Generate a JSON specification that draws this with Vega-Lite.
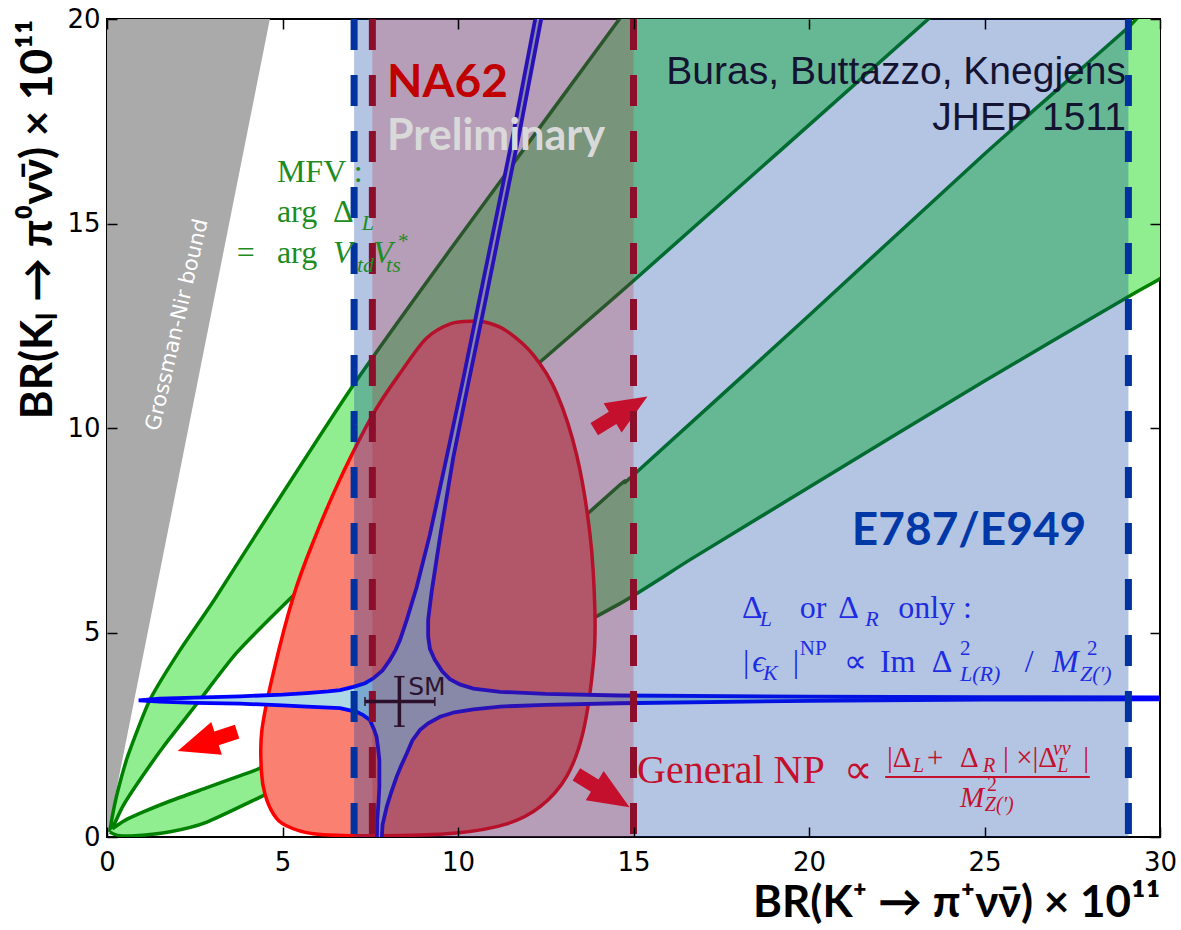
{
"$schema": "https://vega.github.io/schema/vega-lite/v6.json",
"width": 1053, "height": 818,
"autosize": {"type": "none"},
"padding": {"left": 107, "top": 19, "right": 21, "bottom": 93},
"background": "white",
"config": {
  "view": {"stroke": "black", "strokeWidth": 2},
  "axis": {"grid": false, "domain": false, "tickColor": "black", "tickWidth": 1.5, "tickSize": -10, "labelFont": "DejaVu Sans", "labelFontSize": 26, "labelColor": "black", "titleFont": "Lato", "titleFontWeight": "bold", "titleFontSize": 44, "titleColor": "black", "labelPadding": 22}
},
"datasets": {
  "shapes": [
    {"s":"gn","i":0,"x":0,"y":0},{"s":"gn","i":1,"x":4.64,"y":20},{"s":"gn","i":2,"x":4.95,"y":21.5},{"s":"gn","i":3,"x":-1,"y":21.5},{"s":"gn","i":4,"x":-1,"y":0},
    {"s":"b1","i":0,"x":0.08,"y":0.12},{"s":"b1","i":1,"x":0.15,"y":0.5},{"s":"b1","i":2,"x":0.3,"y":1.1},{"s":"b1","i":3,"x":0.6,"y":2.0},{"s":"b1","i":4,"x":1.22,"y":3.35},{"s":"b1","i":5,"x":2.08,"y":4.57},{"s":"b1","i":6,"x":3.05,"y":5.79},{"s":"b1","i":7,"x":4.55,"y":7.8},{"s":"b1","i":8,"x":7.02,"y":11.05},{"s":"b1","i":9,"x":9.77,"y":14.35},{"s":"b1","i":10,"x":14.6,"y":20},{"s":"b1","i":11,"x":17,"y":22.8},
    {"s":"b1","i":12,"x":26,"y":22},{"s":"b1","i":13,"x":23.4,"y":20},{"s":"b1","i":14,"x":15,"y":13.6},{"s":"b1","i":15,"x":11.2,"y":10.75},{"s":"b1","i":16,"x":7.02,"y":7.3},{"s":"b1","i":17,"x":5.17,"y":5.79},{"s":"b1","i":18,"x":3.69,"y":4.5},{"s":"b1","i":19,"x":2.6,"y":3.3},{"s":"b1","i":20,"x":1.6,"y":2.2},{"s":"b1","i":21,"x":0.9,"y":1.35},{"s":"b1","i":22,"x":0.45,"y":0.75},{"s":"b1","i":23,"x":0.15,"y":0.2},
    {"s":"b2","i":0,"x":0.15,"y":0.2},{"s":"b2","i":1,"x":0.5,"y":0.4},{"s":"b2","i":2,"x":1.0,"y":0.6},{"s":"b2","i":3,"x":1.8,"y":0.88},{"s":"b2","i":4,"x":2.83,"y":1.2},{"s":"b2","i":5,"x":3.8,"y":1.5},{"s":"b2","i":6,"x":4.35,"y":1.68},{"s":"b2","i":7,"x":5.5,"y":2.25},{"s":"b2","i":8,"x":7.02,"y":3.06},{"s":"b2","i":9,"x":9.24,"y":4.6},{"s":"b2","i":10,"x":11,"y":5.85},{"s":"b2","i":11,"x":14.6,"y":8.6},{"s":"b2","i":12,"x":15,"y":8.85},{"s":"b2","i":13,"x":20,"y":12.75},{"s":"b2","i":14,"x":25,"y":16.7},{"s":"b2","i":15,"x":29.1,"y":19.8},{"s":"b2","i":16,"x":31.5,"y":21.7},
    {"s":"b2","i":17,"x":31.5,"y":14.5},{"s":"b2","i":18,"x":30,"y":13.65},{"s":"b2","i":19,"x":29.12,"y":13.22},{"s":"b2","i":20,"x":25,"y":11.15},{"s":"b2","i":21,"x":20,"y":8.55},{"s":"b2","i":22,"x":16.65,"y":6.8},{"s":"b2","i":23,"x":14.6,"y":5.7},{"s":"b2","i":24,"x":10,"y":3.55},{"s":"b2","i":25,"x":7.02,"y":2.08},{"s":"b2","i":26,"x":5.5,"y":1.45},{"s":"b2","i":27,"x":4.35,"y":0.97},{"s":"b2","i":28,"x":2.83,"y":0.36},{"s":"b2","i":29,"x":1.8,"y":0.13},{"s":"b2","i":30,"x":0.8,"y":0.03},{"s":"b2","i":31,"x":0.3,"y":0.04},{"s":"b2","i":32,"x":0.08,"y":0.12},
    {"s":"el","i":0,"x":10.44,"y":12.61},{"s":"el","i":1,"x":10.82,"y":12.58},{"s":"el","i":2,"x":11.39,"y":12.37},{"s":"el","i":3,"x":12.15,"y":11.78},{"s":"el","i":4,"x":12.81,"y":10.85},{"s":"el","i":5,"x":13.38,"y":9.34},{"s":"el","i":6,"x":13.76,"y":7.4},{"s":"el","i":7,"x":13.9,"y":5.54},{"s":"el","i":8,"x":13.86,"y":4.28},{"s":"el","i":9,"x":13.57,"y":2.59},{"s":"el","i":10,"x":13.1,"y":1.49},{"s":"el","i":11,"x":12.34,"y":0.74},{"s":"el","i":12,"x":11.39,"y":0.32},{"s":"el","i":13,"x":9.96,"y":0.1},{"s":"el","i":14,"x":7.59,"y":0.03},{"s":"el","i":15,"x":5.88,"y":0.08},{"s":"el","i":16,"x":5.1,"y":0.28},{"s":"el","i":17,"x":4.75,"y":0.55},{"s":"el","i":18,"x":4.5,"y":1.05},{"s":"el","i":19,"x":4.4,"y":1.6},{"s":"el","i":20,"x":4.41,"y":2.59},{"s":"el","i":21,"x":4.74,"y":4.02},{"s":"el","i":22,"x":5.31,"y":5.88},{"s":"el","i":23,"x":5.88,"y":7.23},{"s":"el","i":24,"x":6.64,"y":8.75},{"s":"el","i":25,"x":7.59,"y":10.35},{"s":"el","i":26,"x":8.4,"y":11.4},{"s":"el","i":27,"x":9.11,"y":12.2},{"s":"el","i":28,"x":9.8,"y":12.55},
    {"s":"hy","i":0,"x":0.9,"y":3.34},{"s":"hy","i":1,"x":1.5,"y":3.38},{"s":"hy","i":2,"x":2.5,"y":3.41},{"s":"hy","i":3,"x":3.79,"y":3.44},{"s":"hy","i":4,"x":5.0,"y":3.48},{"s":"hy","i":5,"x":5.69,"y":3.52},{"s":"hy","i":6,"x":6.3,"y":3.56},{"s":"hy","i":7,"x":6.64,"y":3.59},{"s":"hy","i":8,"x":7.02,"y":3.67},{"s":"hy","i":9,"x":7.35,"y":3.76},{"s":"hy","i":10,"x":7.59,"y":3.88},{"s":"hy","i":11,"x":7.85,"y":4.07},{"s":"hy","i":12,"x":8.06,"y":4.33},{"s":"hy","i":13,"x":8.22,"y":4.57},{"s":"hy","i":14,"x":8.35,"y":4.82},{"s":"hy","i":15,"x":8.54,"y":5.31},{"s":"hy","i":16,"x":8.82,"y":6.1},{"s":"hy","i":17,"x":9.2,"y":7.4},{"s":"hy","i":18,"x":9.68,"y":9.3},{"s":"hy","i":19,"x":10.15,"y":11.2},{"s":"hy","i":20,"x":10.6,"y":13.1},{"s":"hy","i":21,"x":11.1,"y":15.2},{"s":"hy","i":22,"x":11.6,"y":17.3},{"s":"hy","i":23,"x":12.2,"y":20},{"s":"hy","i":24,"x":12.65,"y":22},
    {"s":"hy","i":25,"x":12.85,"y":22},{"s":"hy","i":26,"x":12.37,"y":20},{"s":"hy","i":27,"x":11.77,"y":17.3},{"s":"hy","i":28,"x":11.27,"y":15.2},{"s":"hy","i":29,"x":10.78,"y":13.1},{"s":"hy","i":30,"x":10.32,"y":11.2},{"s":"hy","i":31,"x":9.87,"y":9.3},{"s":"hy","i":32,"x":9.5,"y":7.4},{"s":"hy","i":33,"x":9.25,"y":6.0},{"s":"hy","i":34,"x":9.15,"y":5.31},{"s":"hy","i":35,"x":9.15,"y":4.9},{"s":"hy","i":36,"x":9.2,"y":4.6},{"s":"hy","i":37,"x":9.34,"y":4.33},{"s":"hy","i":38,"x":9.55,"y":4.05},{"s":"hy","i":39,"x":9.77,"y":3.86},{"s":"hy","i":40,"x":10.05,"y":3.73},{"s":"hy","i":41,"x":10.44,"y":3.63},{"s":"hy","i":42,"x":11.2,"y":3.55},{"s":"hy","i":43,"x":12.5,"y":3.5},{"s":"hy","i":44,"x":14.6,"y":3.46},{"s":"hy","i":45,"x":20,"y":3.43},{"s":"hy","i":46,"x":25,"y":3.42},{"s":"hy","i":47,"x":31,"y":3.41},
    {"s":"hy","i":48,"x":31,"y":3.37},{"s":"hy","i":49,"x":25,"y":3.36},{"s":"hy","i":50,"x":20,"y":3.33},{"s":"hy","i":51,"x":14.6,"y":3.27},{"s":"hy","i":52,"x":12.5,"y":3.23},{"s":"hy","i":53,"x":11.2,"y":3.19},{"s":"hy","i":54,"x":10.44,"y":3.12},{"s":"hy","i":55,"x":9.9,"y":3.05},{"s":"hy","i":56,"x":9.49,"y":2.94},{"s":"hy","i":57,"x":9.15,"y":2.78},{"s":"hy","i":58,"x":8.92,"y":2.62},{"s":"hy","i":59,"x":8.7,"y":2.36},{"s":"hy","i":60,"x":8.54,"y":2.04},{"s":"hy","i":61,"x":8.38,"y":1.74},{"s":"hy","i":62,"x":8.25,"y":1.47},{"s":"hy","i":63,"x":8.1,"y":1.1},{"s":"hy","i":64,"x":7.97,"y":0.74},{"s":"hy","i":65,"x":7.85,"y":0.3},{"s":"hy","i":66,"x":7.8,"y":-0.5},
    {"s":"hy","i":67,"x":7.68,"y":-0.5},{"s":"hy","i":68,"x":7.7,"y":0.42},{"s":"hy","i":69,"x":7.74,"y":0.9},{"s":"hy","i":70,"x":7.76,"y":1.23},{"s":"hy","i":71,"x":7.76,"y":1.88},{"s":"hy","i":72,"x":7.72,"y":2.2},{"s":"hy","i":73,"x":7.68,"y":2.45},{"s":"hy","i":74,"x":7.6,"y":2.65},{"s":"hy","i":75,"x":7.49,"y":2.86},{"s":"hy","i":76,"x":7.3,"y":2.98},{"s":"hy","i":77,"x":7.11,"y":3.06},{"s":"hy","i":78,"x":6.64,"y":3.15},{"s":"hy","i":79,"x":5.69,"y":3.19},{"s":"hy","i":80,"x":5.0,"y":3.22},{"s":"hy","i":81,"x":3.79,"y":3.26},{"s":"hy","i":82,"x":2.5,"y":3.28},{"s":"hy","i":83,"x":1.5,"y":3.31},{"s":"hy","i":84,"x":0.9,"y":3.34}
  ],
  "bands": [{"e":"E949","a":7.04,"b":29.1},{"e":"NA62","a":7.56,"b":15}],
  "dash": [{"e":"E949","v":7.04},{"e":"E949","v":29.1},{"e":"NA62","v":7.56},{"e":"NA62","v":15}],
  "sm": [{"a":7.35,"b":9.34,"c":3.31,"d":3.31},{"a":8.33,"b":8.33,"c":2.71,"d":3.92}],
  "smcap": [{"a":7.35,"b":7.35,"c":3.2,"d":3.42},{"a":9.34,"b":9.34,"c":3.2,"d":3.42},{"a":8.18,"b":8.48,"c":3.92,"d":3.92},{"a":8.18,"b":8.48,"c":2.71,"d":2.71}],
  "frac": [{"a":22.17,"b":28.0,"c":1.47}],
  "arrows": [{"x":2.86,"y":2.34,"dir":162,"c":"np"},{"x":14.64,"y":10.37,"dir":328.4,"c":"gen"},{"x":14.13,"y":1.13,"dir":31.6,"c":"gen"}],
  "lab": [
    {"t":"NA62","x":7.98,"y":18.09,"k":"na62"},
    {"t":"Preliminary","x":7.98,"y":16.8,"k":"prelim"},
    {"t":"Buras, Buttazzo, Knegjens","x":29.03,"y":18.41,"k":"ref"},
    {"t":"JHEP 1511","x":29.03,"y":17.29,"k":"ref"},
    {"t":"E787/E949","x":21.22,"y":7.14,"k":"e949"},
    {"t":"SM","x":8.58,"y":3.47,"k":"sm"},
    {"t":"Grossman-Nir bound","x":2.01,"y":12.52,"k":"gn"}
  ],
  "tx": [
    {"t":"MFV :","x":4.84,"y":16.01,"g":"mfv","k":"big"},
    {"t":"arg","x":4.84,"y":15.04,"g":"mfv","k":"big"},
    {"t":"Δ","x":6.44,"y":15.04,"g":"mfv","k":"big"},
    {"t":"L","x":7.26,"y":14.84,"g":"mfv","k":"sub"},
    {"t":"=","x":3.70,"y":14.03,"g":"mfv","k":"big"},
    {"t":"arg","x":4.84,"y":14.03,"g":"mfv","k":"big"},
    {"t":"V","x":6.44,"y":14.03,"g":"mfv","k":"bigi"},
    {"t":"td","x":7.12,"y":13.81,"g":"mfv","k":"sub"},
    {"t":"V","x":7.58,"y":14.03,"g":"mfv","k":"bigi"},
    {"t":"*","x":8.29,"y":14.4,"g":"mfv","k":"sup"},
    {"t":"ts","x":7.95,"y":13.81,"g":"mfv","k":"sub"},
    {"t":"Δ","x":18.09,"y":5.35,"g":"eps","k":"big"},
    {"t":"L","x":18.6,"y":5.16,"g":"eps","k":"sub"},
    {"t":"or","x":19.74,"y":5.35,"g":"eps","k":"big"},
    {"t":"Δ","x":20.83,"y":5.35,"g":"eps","k":"big"},
    {"t":"R","x":21.6,"y":5.16,"g":"eps","k":"sub"},
    {"t":"only :","x":22.54,"y":5.35,"g":"eps","k":"big"},
    {"t":"|","x":18.12,"y":4.03,"g":"eps","k":"big"},
    {"t":"ϵ","x":18.38,"y":4.03,"g":"eps","k":"bigi"},
    {"t":"K","x":18.69,"y":3.83,"g":"eps","k":"sub"},
    {"t":"|","x":19.54,"y":4.03,"g":"eps","k":"big"},
    {"t":"NP","x":19.74,"y":4.45,"g":"eps","k":"sup"},
    {"t":"∝","x":21.0,"y":4.03,"g":"eps","k":"big"},
    {"t":"Im","x":22.02,"y":4.03,"g":"eps","k":"big"},
    {"t":"Δ","x":23.5,"y":4.03,"g":"eps","k":"big"},
    {"t":"2","x":24.3,"y":4.45,"g":"eps","k":"sup"},
    {"t":"L(R)","x":24.3,"y":3.81,"g":"eps","k":"sub"},
    {"t":"/","x":26.15,"y":4.03,"g":"eps","k":"big"},
    {"t":"M","x":26.92,"y":4.03,"g":"eps","k":"bigi"},
    {"t":"2","x":27.92,"y":4.45,"g":"eps","k":"sup"},
    {"t":"Z(′)","x":27.72,"y":3.81,"g":"eps","k":"sub"},
    {"t":"General NP","x":15.1,"y":1.32,"g":"gen","k":"gen"},
    {"t":"∝","x":21.0,"y":1.32,"g":"gen","k":"gen"},
    {"t":"|Δ","x":22.22,"y":1.71,"g":"gen","k":"num"},
    {"t":"L","x":22.96,"y":1.59,"g":"gen","k":"nsub"},
    {"t":"+","x":23.36,"y":1.71,"g":"gen","k":"num"},
    {"t":"Δ","x":24.3,"y":1.71,"g":"gen","k":"num"},
    {"t":"R","x":24.96,"y":1.59,"g":"gen","k":"nsub"},
    {"t":"| ×|Δ","x":25.53,"y":1.71,"g":"gen","k":"num"},
    {"t":"L","x":27.07,"y":1.59,"g":"gen","k":"nsub"},
    {"t":"νν","x":26.95,"y":2.0,"g":"gen","k":"nsub"},
    {"t":"|","x":27.81,"y":1.71,"g":"gen","k":"num"},
    {"t":"M","x":24.3,"y":0.73,"g":"gen","k":"numi"},
    {"t":"2","x":25.07,"y":1.12,"g":"gen","k":"nsup"},
    {"t":"Z(′)","x":25.01,"y":0.64,"g":"gen","k":"nsub"}
  ]
},
"resolve": {"axis": {"x": "independent", "y": "independent"}},
"layer": [
 {"layer": [
  {"data":{"name":"shapes"},"transform":[{"filter":"datum.s==='gn'"}],
   "mark":{"type":"line","fill":"#aaaaaa","strokeOpacity":0,"clip":true},
   "encoding":{
     "x":{"field":"x","type":"quantitative","scale":{"domain":[0,30],"nice":false,"zero":false},
          "axis":{"values":[0,5,10,15,20,25,30],"title":"BR(K⁺ → π⁺νν̄) × 10¹¹","titleAnchor":"end","titlePadding":6,"labelFlush":false,"labelOverlap":false,"zindex":1}},
     "y":{"field":"y","type":"quantitative","scale":{"domain":[0,20],"nice":false,"zero":false},
          "axis":{"values":[0,5,10,15,20],"title":"BR(Kₗ → π⁰νν̄) × 10¹¹","titleAnchor":"end","titlePadding":6,"labelPadding":17,"labelFlush":false,"labelOverlap":false,"zindex":1}},
     "order":{"field":"i","type":"quantitative"}}},
  {"data":{"name":"shapes"},"transform":[{"filter":"datum.s==='b1' || datum.s==='b2'"}],
   "mark":{"type":"line","fill":"#90ee90","stroke":"#008000","strokeWidth":3.5,"interpolate":"cardinal","tension":0.4,"clip":true},
   "encoding":{
     "x":{"field":"x","type":"quantitative","scale":{"domain":[0,30],"nice":false,"zero":false}},
     "y":{"field":"y","type":"quantitative","scale":{"domain":[0,20],"nice":false,"zero":false}},
     "detail":{"field":"s"},
     "order":{"field":"i","type":"quantitative"}}},
  {"data":{"name":"shapes"},"transform":[{"filter":"datum.s==='el'"}],
   "mark":{"type":"line","fill":"#fa8072","stroke":"#ff0000","strokeWidth":3.5,"interpolate":"cardinal-closed","clip":true},
   "encoding":{
     "x":{"field":"x","type":"quantitative","scale":{"domain":[0,30],"nice":false,"zero":false}},
     "y":{"field":"y","type":"quantitative","scale":{"domain":[0,20],"nice":false,"zero":false}},
     "order":{"field":"i","type":"quantitative"}}},
  {"data":{"name":"shapes"},"transform":[{"filter":"datum.s==='hy'"}],
   "mark":{"type":"line","fill":"#add8e6","stroke":"#0000ff","strokeWidth":3.8,"clip":true},
   "encoding":{
     "x":{"field":"x","type":"quantitative","scale":{"domain":[0,30],"nice":false,"zero":false}},
     "y":{"field":"y","type":"quantitative","scale":{"domain":[0,20],"nice":false,"zero":false}},
     "order":{"field":"i","type":"quantitative"}}},
  {"data":{"name":"bands"},"transform":[{"filter":"datum.e==='E949'"}],
   "mark":{"type":"rect","fill":"#063ba3","fillOpacity":0.3},
   "encoding":{
     "x":{"field":"a","type":"quantitative","scale":{"domain":[0,30],"nice":false,"zero":false}},
     "x2":{"field":"b"},
     "y":{"datum":0,"type":"quantitative","scale":{"domain":[0,20],"nice":false,"zero":false}},
     "y2":{"datum":20}}},
  {"data":{"name":"bands"},"transform":[{"filter":"datum.e==='NA62'"}],
   "mark":{"type":"rect","fill":"#bc0e18","fillOpacity":0.21},
   "encoding":{
     "x":{"field":"a","type":"quantitative","scale":{"domain":[0,30],"nice":false,"zero":false}},
     "x2":{"field":"b"},
     "y":{"datum":0,"type":"quantitative","scale":{"domain":[0,20],"nice":false,"zero":false}},
     "y2":{"datum":20}}},
  {"data":{"name":"arrows"},
   "mark":{"type":"point","shape":"M 1 0 L -0.31 -0.55 L -0.31 -0.23 L -1 -0.23 L -1 0.23 L -0.31 0.23 L -0.31 0.55 Z","filled":true,"size":3900,"opacity":1,"strokeWidth":0},
   "encoding":{
     "x":{"field":"x","type":"quantitative","scale":{"domain":[0,30],"nice":false,"zero":false}},
     "y":{"field":"y","type":"quantitative","scale":{"domain":[0,20],"nice":false,"zero":false}},
     "angle":{"field":"dir","type":"quantitative","scale":null},
     "color":{"field":"c","type":"nominal","scale":{"domain":["np","gen","mfv","eps"],"range":["#ff0000","#c4102d","#1e8c1e","#1e2de1"]},"legend":null}}},
  {"data":{"name":"dash"},"transform":[{"filter":"datum.e==='E949'"}],
   "mark":{"type":"rule","color":"#0033a0","strokeWidth":7,"strokeDash":[31,25]},
   "encoding":{
     "x":{"field":"v","type":"quantitative","scale":{"domain":[0,30],"nice":false,"zero":false}},
     "y":{"datum":20,"type":"quantitative","scale":{"domain":[0,20],"nice":false,"zero":false}},
     "y2":{"datum":0}}},
  {"data":{"name":"dash"},"transform":[{"filter":"datum.e==='NA62'"}],
   "mark":{"type":"rule","color":"#8b0e2a","strokeWidth":7,"strokeDash":[31,25]},
   "encoding":{
     "x":{"field":"v","type":"quantitative","scale":{"domain":[0,30],"nice":false,"zero":false}},
     "y":{"datum":20,"type":"quantitative","scale":{"domain":[0,20],"nice":false,"zero":false}},
     "y2":{"datum":0}}},
  {"data":{"name":"frac"},
   "mark":{"type":"rule","color":"#c4102d","strokeWidth":2},
   "encoding":{
     "x":{"field":"a","type":"quantitative","scale":{"domain":[0,30],"nice":false,"zero":false}},
     "x2":{"field":"b"},
     "y":{"field":"c","type":"quantitative","scale":{"domain":[0,20],"nice":false,"zero":false}}}},
  {"data":{"name":"smcap"},
   "mark":{"type":"rule","color":"#2b0f2b","strokeWidth":1.5},
   "encoding":{
     "x":{"field":"a","type":"quantitative","scale":{"domain":[0,30],"nice":false,"zero":false}},
     "x2":{"field":"b"},
     "y":{"field":"c","type":"quantitative","scale":{"domain":[0,20],"nice":false,"zero":false}},
     "y2":{"field":"d"}}},
  {"data":{"name":"lab"},"transform":[{"filter":"datum.k==='na62'"}],
   "mark":{"type":"text","font":"Lato","fontWeight":"bold","fontSize":46,"align":"left","baseline":"alphabetic","color":"#c00000"},
   "encoding":{"x":{"field":"x","type":"quantitative","scale":{"domain":[0,30],"nice":false,"zero":false}},"y":{"field":"y","type":"quantitative","scale":{"domain":[0,20],"nice":false,"zero":false}},"text":{"field":"t"}}},
  {"data":{"name":"lab"},"transform":[{"filter":"datum.k==='prelim'"}],
   "mark":{"type":"text","font":"Lato","fontWeight":"bold","fontSize":43,"align":"left","baseline":"alphabetic","color":"#d9d9d9"},
   "encoding":{"x":{"field":"x","type":"quantitative","scale":{"domain":[0,30],"nice":false,"zero":false}},"y":{"field":"y","type":"quantitative","scale":{"domain":[0,20],"nice":false,"zero":false}},"text":{"field":"t"}}},
  {"data":{"name":"lab"},"transform":[{"filter":"datum.k==='ref'"}],
   "mark":{"type":"text","font":"Liberation Sans","fontSize":39,"align":"right","baseline":"alphabetic","color":"#141432"},
   "encoding":{"x":{"field":"x","type":"quantitative","scale":{"domain":[0,30],"nice":false,"zero":false}},"y":{"field":"y","type":"quantitative","scale":{"domain":[0,20],"nice":false,"zero":false}},"text":{"field":"t"}}},
  {"data":{"name":"lab"},"transform":[{"filter":"datum.k==='e949'"}],
   "mark":{"type":"text","font":"Lato","fontWeight":"bold","fontSize":46,"align":"left","baseline":"alphabetic","color":"#0038a8"},
   "encoding":{"x":{"field":"x","type":"quantitative","scale":{"domain":[0,30],"nice":false,"zero":false}},"y":{"field":"y","type":"quantitative","scale":{"domain":[0,20],"nice":false,"zero":false}},"text":{"field":"t"}}},
  {"data":{"name":"lab"},"transform":[{"filter":"datum.k==='sm'"}],
   "mark":{"type":"text","font":"DejaVu Sans","fontSize":25,"align":"left","baseline":"alphabetic","color":"#2b1530"},
   "encoding":{"x":{"field":"x","type":"quantitative","scale":{"domain":[0,30],"nice":false,"zero":false}},"y":{"field":"y","type":"quantitative","scale":{"domain":[0,20],"nice":false,"zero":false}},"text":{"field":"t"}}},
  {"data":{"name":"lab"},"transform":[{"filter":"datum.k==='gn'"}],
   "mark":{"type":"text","font":"DejaVu Sans","fontSize":21,"align":"center","baseline":"middle","color":"white","angle":283},
   "encoding":{"x":{"field":"x","type":"quantitative","scale":{"domain":[0,30],"nice":false,"zero":false}},"y":{"field":"y","type":"quantitative","scale":{"domain":[0,20],"nice":false,"zero":false}},"text":{"field":"t"}}},
  {"data":{"name":"tx"},"transform":[{"filter":"datum.k==='big'"}],
   "mark":{"type":"text","font":"Liberation Serif","fontSize":32,"align":"left","baseline":"alphabetic"},
   "encoding":{"x":{"field":"x","type":"quantitative","scale":{"domain":[0,30],"nice":false,"zero":false}},"y":{"field":"y","type":"quantitative","scale":{"domain":[0,20],"nice":false,"zero":false}},"text":{"field":"t"},
     "color":{"field":"g","type":"nominal","scale":{"domain":["np","gen","mfv","eps"],"range":["#ff0000","#c4102d","#1e8c1e","#1e2de1"]},"legend":null}}},
  {"data":{"name":"tx"},"transform":[{"filter":"datum.k==='bigi'"}],
   "mark":{"type":"text","font":"Liberation Serif","fontStyle":"italic","fontSize":32,"align":"left","baseline":"alphabetic"},
   "encoding":{"x":{"field":"x","type":"quantitative","scale":{"domain":[0,30],"nice":false,"zero":false}},"y":{"field":"y","type":"quantitative","scale":{"domain":[0,20],"nice":false,"zero":false}},"text":{"field":"t"},
     "color":{"field":"g","type":"nominal","scale":{"domain":["np","gen","mfv","eps"],"range":["#ff0000","#c4102d","#1e8c1e","#1e2de1"]},"legend":null}}},
  {"data":{"name":"tx"},"transform":[{"filter":"datum.k==='sub'"}],
   "mark":{"type":"text","font":"Liberation Serif","fontStyle":"italic","fontSize":22,"align":"left","baseline":"alphabetic"},
   "encoding":{"x":{"field":"x","type":"quantitative","scale":{"domain":[0,30],"nice":false,"zero":false}},"y":{"field":"y","type":"quantitative","scale":{"domain":[0,20],"nice":false,"zero":false}},"text":{"field":"t"},
     "color":{"field":"g","type":"nominal","scale":{"domain":["np","gen","mfv","eps"],"range":["#ff0000","#c4102d","#1e8c1e","#1e2de1"]},"legend":null}}},
  {"data":{"name":"tx"},"transform":[{"filter":"datum.k==='sup'"}],
   "mark":{"type":"text","font":"Liberation Serif","fontSize":21,"align":"left","baseline":"alphabetic"},
   "encoding":{"x":{"field":"x","type":"quantitative","scale":{"domain":[0,30],"nice":false,"zero":false}},"y":{"field":"y","type":"quantitative","scale":{"domain":[0,20],"nice":false,"zero":false}},"text":{"field":"t"},
     "color":{"field":"g","type":"nominal","scale":{"domain":["np","gen","mfv","eps"],"range":["#ff0000","#c4102d","#1e8c1e","#1e2de1"]},"legend":null}}},
  {"data":{"name":"tx"},"transform":[{"filter":"datum.k==='gen'"}],
   "mark":{"type":"text","font":"Liberation Serif","fontSize":40,"align":"left","baseline":"alphabetic"},
   "encoding":{"x":{"field":"x","type":"quantitative","scale":{"domain":[0,30],"nice":false,"zero":false}},"y":{"field":"y","type":"quantitative","scale":{"domain":[0,20],"nice":false,"zero":false}},"text":{"field":"t"},
     "color":{"field":"g","type":"nominal","scale":{"domain":["np","gen","mfv","eps"],"range":["#ff0000","#c4102d","#1e8c1e","#1e2de1"]},"legend":null}}},
  {"data":{"name":"tx"},"transform":[{"filter":"datum.k==='num'"}],
   "mark":{"type":"text","font":"Liberation Serif","fontSize":29,"align":"left","baseline":"alphabetic"},
   "encoding":{"x":{"field":"x","type":"quantitative","scale":{"domain":[0,30],"nice":false,"zero":false}},"y":{"field":"y","type":"quantitative","scale":{"domain":[0,20],"nice":false,"zero":false}},"text":{"field":"t"},
     "color":{"field":"g","type":"nominal","scale":{"domain":["np","gen","mfv","eps"],"range":["#ff0000","#c4102d","#1e8c1e","#1e2de1"]},"legend":null}}},
  {"data":{"name":"tx"},"transform":[{"filter":"datum.k==='numi'"}],
   "mark":{"type":"text","font":"Liberation Serif","fontStyle":"italic","fontSize":29,"align":"left","baseline":"alphabetic"},
   "encoding":{"x":{"field":"x","type":"quantitative","scale":{"domain":[0,30],"nice":false,"zero":false}},"y":{"field":"y","type":"quantitative","scale":{"domain":[0,20],"nice":false,"zero":false}},"text":{"field":"t"},
     "color":{"field":"g","type":"nominal","scale":{"domain":["np","gen","mfv","eps"],"range":["#ff0000","#c4102d","#1e8c1e","#1e2de1"]},"legend":null}}},
  {"data":{"name":"tx"},"transform":[{"filter":"datum.k==='nsub'"}],
   "mark":{"type":"text","font":"Liberation Serif","fontStyle":"italic","fontSize":20,"align":"left","baseline":"alphabetic"},
   "encoding":{"x":{"field":"x","type":"quantitative","scale":{"domain":[0,30],"nice":false,"zero":false}},"y":{"field":"y","type":"quantitative","scale":{"domain":[0,20],"nice":false,"zero":false}},"text":{"field":"t"},
     "color":{"field":"g","type":"nominal","scale":{"domain":["np","gen","mfv","eps"],"range":["#ff0000","#c4102d","#1e8c1e","#1e2de1"]},"legend":null}}},
  {"data":{"name":"tx"},"transform":[{"filter":"datum.k==='nsup'"}],
   "mark":{"type":"text","font":"Liberation Serif","fontSize":20,"align":"left","baseline":"alphabetic"},
   "encoding":{"x":{"field":"x","type":"quantitative","scale":{"domain":[0,30],"nice":false,"zero":false}},"y":{"field":"y","type":"quantitative","scale":{"domain":[0,20],"nice":false,"zero":false}},"text":{"field":"t"},
     "color":{"field":"g","type":"nominal","scale":{"domain":["np","gen","mfv","eps"],"range":["#ff0000","#c4102d","#1e8c1e","#1e2de1"]},"legend":null}}}
 ]},
 {"data":{"name":"sm"},
  "mark":{"type":"rule","color":"#2b0f2b","strokeWidth":3.5},
  "encoding":{
    "x":{"field":"a","type":"quantitative","scale":{"domain":[0,30],"nice":false,"zero":false},
         "axis":{"orient":"top","values":[0,5,10,15,20,25,30],"labels":false,"title":null,"zindex":1}},
    "x2":{"field":"b"},
    "y":{"field":"c","type":"quantitative","scale":{"domain":[0,20],"nice":false,"zero":false},
         "axis":{"orient":"right","values":[0,5,10,15,20],"labels":false,"title":null,"zindex":1}},
    "y2":{"field":"d"}}}
]
}
